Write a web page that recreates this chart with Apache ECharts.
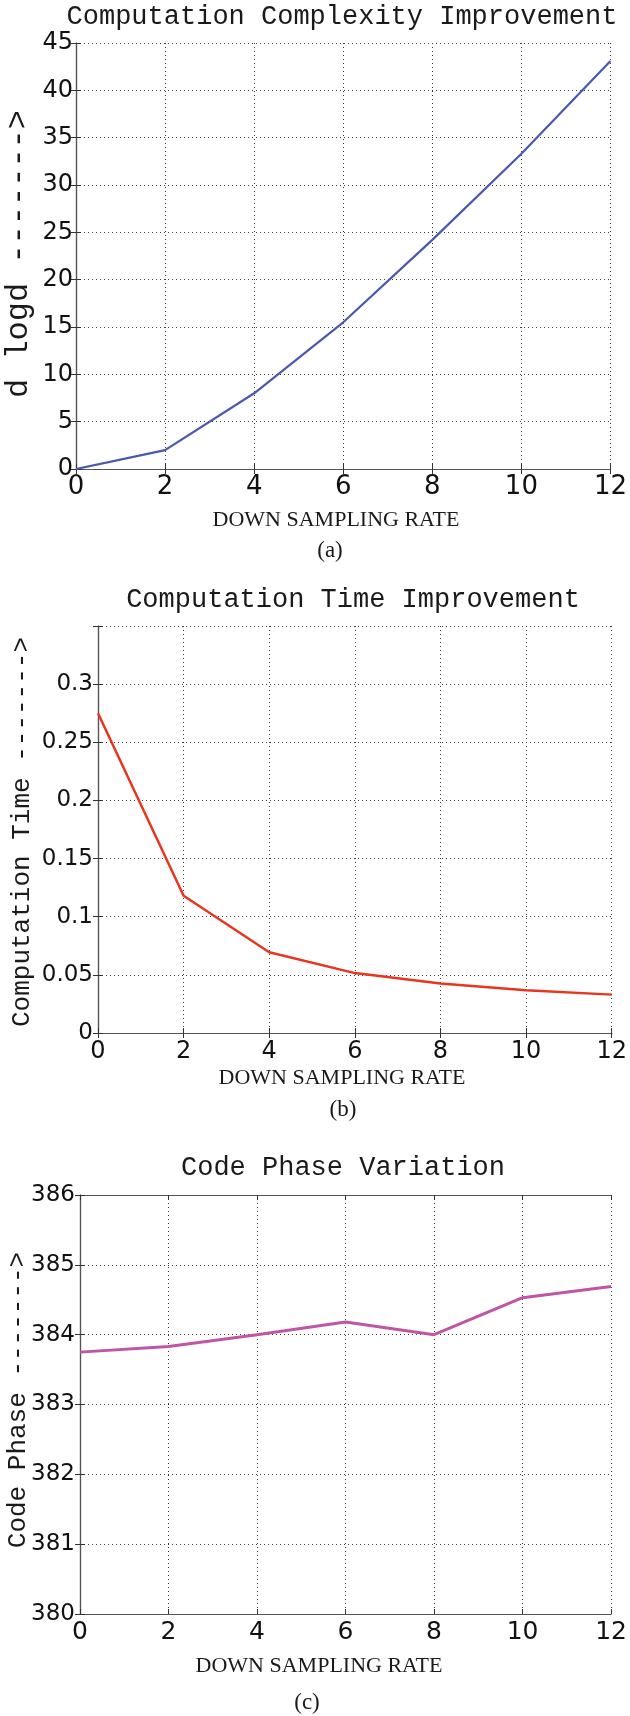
<!DOCTYPE html>
<html><head><meta charset="utf-8">
<script src="https://cdn.jsdelivr.net/npm/echarts@6/dist/echarts.min.js"></script>
<style>html,body{margin:0;padding:0;background:#fff}#c{width:630px;height:1716px}</style>
</head><body><div id="c"></div>
<script>
// ---- data ----
const rates = [0, 2, 4, 6, 8, 10, 12];
const complexity = [0, 2, 8, 15.5, 24.2, 33.3, 43.1];
const compTime = [0.275, 0.118, 0.0695, 0.0515, 0.0425, 0.0367, 0.033];
const codePhase = [383.75, 383.83, 384.0, 384.18, 384.0, 384.53, 384.69];
const titles = ['Computation Complexity Improvement', 'Computation Time Improvement', 'Code Phase Variation'];
const yNames = ['d logd ------->', 'Computation Time ------->', 'Code Phase ------->'];
const xCaption = 'DOWN SAMPLING RATE';
const panelTags = ['(a)', '(b)', '(c)'];
const yRanges = [[0, 45, 5], [0, 0.35, 0.05], [380, 386, 1]];
const xRange = [0, 12, 2];

// ---- layout / style ----
const grids = [
  {left: 76, top: 43, width: 544, height: 426},
  {left: 98, top: 626, width: 519, height: 407},
  {left: 80, top: 1195, width: 535, height: 419}
];
const lineColors = ['#4a58b0', '#e8351e', '#c055a5'];
const lineWidths = [2.2, 2.5, 3];
const titlePos = [[342, 17], [353, 600], [343, 1168]];
const capPos = [[336, 520], [342, 1078], [319, 1666]];
const tagPos = [[330, 551], [343, 1110], [307, 1703]];
const yNamePos = [[19, 254], [22, 832], [18, 1400]];
const yNameSize = [32, 26, 26];
const MONO = '"Courier New", "Liberation Mono", monospace';
const SANS = '"DejaVu Sans", sans-serif';
const SERIF = '"Times New Roman", "Liberation Serif", serif';
const gridLine = {show: true, lineStyle: {color: '#3a3a3a', width: 1, type: [1, 3]}};
const frame = {show: true, lineStyle: {color: '#555', width: 1.2}};
const tick = {show: true, inside: true, length: 5, lineStyle: {color: '#333'}};

const xAxes = [], yAxes = [], series = [], graphic = [];
const yLabelMargin = [3, 5, 5];
const xLabelMargin = [5, 7, 6];
const xLabelSize = [26, 24, 25];
const yLabelSize = [24, 23, 23];
grids.forEach((g, i) => {
  const [ymin, ymax, yint] = yRanges[i];
  xAxes.push({gridIndex: i, type: 'value', position: 'bottom', min: xRange[0], max: xRange[1], interval: xRange[2],
    axisLine: frame, axisTick: tick, splitLine: gridLine,
    axisLabel: {fontFamily: SANS, fontSize: xLabelSize[i], color: '#111', margin: xLabelMargin[i]}});
  xAxes.push({gridIndex: i, type: 'value', position: 'top', min: xRange[0], max: xRange[1], interval: xRange[2],
    axisLine: frame, axisTick: tick, splitLine: {show: false}, axisLabel: {show: false}});
  yAxes.push({gridIndex: i, type: 'value', position: 'left', min: ymin, max: ymax, interval: yint,
    axisLine: frame, axisTick: tick, splitLine: gridLine,
    axisLabel: {fontFamily: SANS, fontSize: yLabelSize[i], color: '#111', margin: yLabelMargin[i],
      formatter: v => (i === 1 && v > 0.34) ? '' : String(+v.toFixed(2))}});
  yAxes.push({gridIndex: i, type: 'value', position: 'right', min: ymin, max: ymax, interval: yint,
    axisLine: frame, axisTick: tick, splitLine: {show: false}, axisLabel: {show: false}});
});
const allData = [complexity, compTime, codePhase];
allData.forEach((vals, i) => {
  series.push({type: 'line', xAxisIndex: 2 * i, yAxisIndex: 2 * i, showSymbol: false, silent: true,
    lineStyle: {color: lineColors[i], width: lineWidths[i]},
    data: rates.map((x, k) => [x, vals[k]])});
});
titles.forEach((t, i) => {
  graphic.push({type: 'text', x: titlePos[i][0], y: titlePos[i][1],
    style: {text: t, font: '27px ' + MONO, fill: '#1a1a1a', textAlign: 'center', textVerticalAlign: 'middle'}});
  graphic.push({type: 'text', x: capPos[i][0], y: capPos[i][1],
    style: {text: xCaption, font: '22px ' + SERIF, fill: '#1a1a1a', textAlign: 'center', textVerticalAlign: 'middle'}});
  graphic.push({type: 'text', x: tagPos[i][0], y: tagPos[i][1],
    style: {text: panelTags[i], font: '23px ' + SERIF, fill: '#1a1a1a', textAlign: 'center', textVerticalAlign: 'middle'}});
  graphic.push({type: 'text', x: yNamePos[i][0], y: yNamePos[i][1], rotation: Math.PI / 2,
    style: {text: yNames[i], font: yNameSize[i] + 'px ' + MONO, fill: '#1a1a1a', textAlign: 'center', textVerticalAlign: 'middle'}});
});

const chart = echarts.init(document.getElementById('c'), null, {renderer: 'canvas'});
chart.setOption({
  animation: false,
  backgroundColor: '#fff',
  grid: grids.map(g => Object.assign({containLabel: false}, g)),
  xAxis: xAxes, yAxis: yAxes, series: series, graphic: graphic
});
</script></body></html>
